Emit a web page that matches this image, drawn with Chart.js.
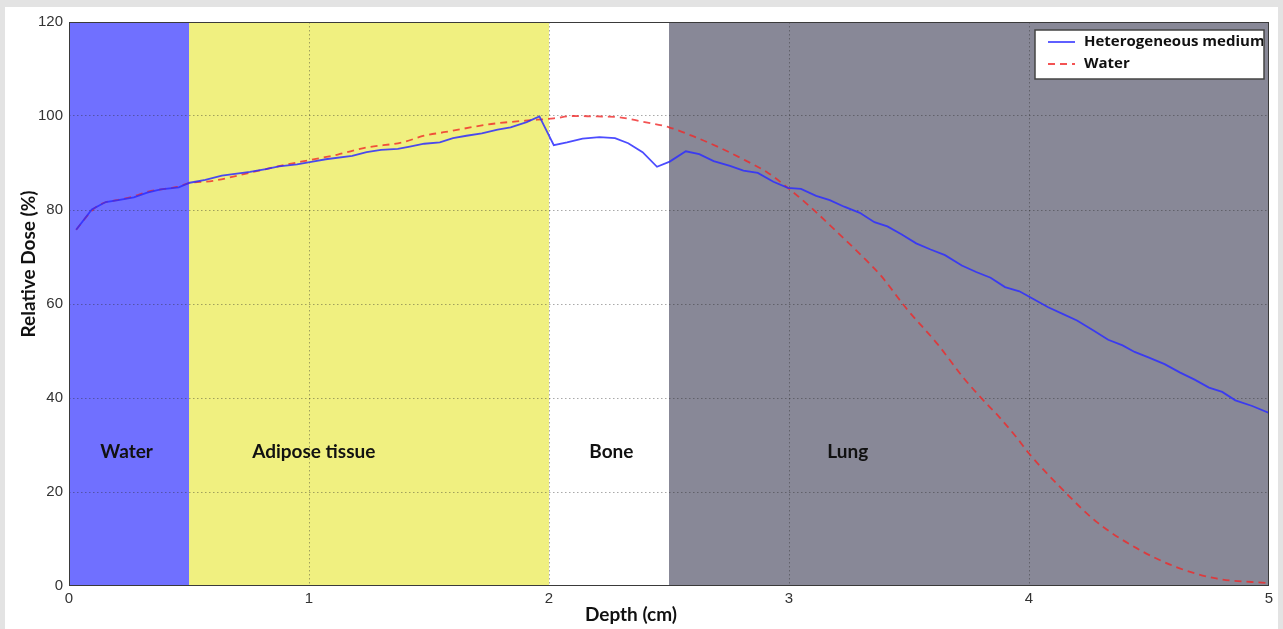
<!DOCTYPE html>
<html>
<head>
<meta charset="utf-8">
<script src="https://cdn.jsdelivr.net/npm/chart.js@4.4.0/dist/chart.umd.min.js"></script>
<style>
  html, body { margin: 0; padding: 0; background: #e3e3e3; }
  #wrap { position: absolute; left: 5px; top: 7px; width: 1273px; height: 622px; background: #fff; }
</style>
</head>
<body>
<div id="wrap"><canvas id="myChart" width="1273" height="622"></canvas></div>
<script>
// heterogeneous medium (blue solid)
const depthHetero = [0.03, 0.095, 0.153, 0.205, 0.27, 0.326, 0.382, 0.457, 0.503, 0.568, 0.637, 0.754, 0.82, 0.875,
  0.95, 1.015, 1.07, 1.18, 1.24, 1.30, 1.37, 1.42, 1.48, 1.545, 1.60, 1.656, 1.72, 1.786, 1.84, 1.907, 1.96,
  2.02, 2.075, 2.14, 2.21, 2.275, 2.33, 2.39, 2.45, 2.503, 2.57, 2.626, 2.686, 2.754, 2.81, 2.87, 2.935, 2.995,
  3.05, 3.113, 3.17, 3.23, 3.295, 3.356, 3.41, 3.47, 3.53, 3.59, 3.65, 3.72, 3.78, 3.84, 3.90, 3.96, 4.02,
  4.08, 4.14, 4.20, 4.267, 4.33, 4.39, 4.44, 4.50, 4.565, 4.63, 4.69, 4.75, 4.805, 4.86, 4.93, 5.0];
const doseHetero = [75.8, 80.1, 81.7, 82.1, 82.7, 83.7, 84.4, 84.8, 85.8, 86.4, 87.3, 88.1, 88.7, 89.3,
  89.7, 90.3, 90.8, 91.5, 92.3, 92.8, 93.0, 93.5, 94.1, 94.4, 95.3, 95.8, 96.3, 97.1, 97.6, 98.7, 99.9,
  93.8, 94.4, 95.2, 95.5, 95.3, 94.2, 92.3, 89.2, 90.3, 92.5, 91.9, 90.4, 89.4, 88.4, 87.9, 86.0, 84.7,
  84.5, 83.0, 82.1, 80.7, 79.4, 77.4, 76.5, 74.8, 72.9, 71.6, 70.4, 68.2, 66.8, 65.6, 63.6, 62.7, 61.0,
  59.3, 57.9, 56.5, 54.4, 52.4, 51.2, 49.8, 48.6, 47.2, 45.4, 43.9, 42.2, 41.3, 39.5, 38.3, 36.8];

// water (red dashed)
const depthWater = [0.03, 0.1, 0.15, 0.2, 0.27, 0.33, 0.4, 0.45, 0.5, 0.6, 0.75, 0.9, 1.0, 1.12, 1.24, 1.39,
  1.48, 1.57, 1.76, 1.9, 2.02, 2.1, 2.2, 2.28, 2.39, 2.5, 2.6, 2.71, 2.82, 2.91, 3.0, 3.09, 3.18, 3.28, 3.38,
  3.49, 3.62, 3.73, 3.81, 3.87, 3.95, 4.0, 4.15, 4.28, 4.45, 4.61, 4.78, 5.0];
const doseWater = [75.8, 80.1, 81.6, 82.1, 82.9, 83.9, 84.5, 84.9, 85.7, 86.2, 87.9, 89.6, 90.6, 91.8, 93.3, 94.4,
  95.8, 96.6, 98.3, 99.0, 99.5, 100.0, 99.9, 99.8, 98.8, 97.6, 95.7, 93.3, 90.5, 88.0, 84.5, 80.6, 76.3, 71.4, 66.2,
  59.0, 51.4, 44.1, 39.5, 36.3, 31.5, 28.2, 20.0, 13.7, 8.0, 4.1, 1.6, 0.6];

// tissue slabs
const regionNames = ['Water', 'Adipose tissue', 'Bone', 'Lung'];
const regionStart = [0, 0.5, 2, 2.5];
const regionEnd = [0.5, 2, 2.5, 5];
const regionLabelX = [0.24, 1.02, 2.26, 3.245];
const regionLabelY = 28.5;
const regionColors = ['rgb(112,112,255)', 'rgb(240,240,128)', '#ffffff', 'rgb(136,136,151)'];

const xTicks = [0, 1, 2, 3, 4, 5];
const yTicks = [0, 20, 40, 60, 80, 100, 120];

const ctx = document.getElementById('myChart').getContext('2d');
const boldFont = '"Lato", "Open Sans", sans-serif';

const slabs = {
  id: 'slabs',
  beforeDraw(chart) {
    const { ctx, chartArea: a, scales: { x } } = chart;
    ctx.save();
    regionNames.forEach((n, i) => {
      const x0 = x.getPixelForValue(regionStart[i]);
      const x1 = x.getPixelForValue(regionEnd[i]);
      ctx.fillStyle = regionColors[i];
      ctx.fillRect(x0, a.top, x1 - x0, a.bottom - a.top);
    });
    ctx.restore();
  },
  afterDraw(chart) {
    const { ctx, chartArea: a, scales: { x, y } } = chart;
    ctx.save();
    // frame
    ctx.strokeStyle = '#3a3a3a';
    ctx.lineWidth = 1;
    ctx.strokeRect(a.left + 0.5, a.top + 0.5, a.right - a.left - 1, a.bottom - a.top - 1);

    // slab labels
    ctx.fillStyle = '#111';
    ctx.font = 'bold 19px ' + boldFont;
    ctx.textAlign = 'center';
    ctx.textBaseline = 'middle';
    regionNames.forEach((n, i) => {
      ctx.fillText(n, x.getPixelForValue(regionLabelX[i]), y.getPixelForValue(regionLabelY));
    });

    // axis titles
    ctx.fillText('Depth (cm)', 626, 608);
    ctx.save();
    ctx.translate(24, 257);
    ctx.rotate(-Math.PI / 2);
    ctx.fillText('Relative Dose (%)', 0, 0);
    ctx.restore();

    // legend box
    const bx = a.right - 234, by = a.top + 8, bw = 229, bh = 49;
    ctx.fillStyle = '#fff';
    ctx.fillRect(bx, by, bw, bh);
    ctx.strokeStyle = '#444';
    ctx.lineWidth = 1.5;
    ctx.strokeRect(bx, by, bw, bh);
    chart.data.datasets.forEach((ds, i) => {
      const ly = by + 12 + i * 22;
      ctx.beginPath();
      ctx.strokeStyle = ds.borderColor;
      ctx.lineWidth = ds.borderWidth;
      ctx.setLineDash(ds.borderDash || []);
      ctx.moveTo(bx + 13, ly);
      ctx.lineTo(bx + 40, ly);
      ctx.stroke();
      ctx.setLineDash([]);
      ctx.save();
      ctx.beginPath();
      ctx.rect(bx, by, bw - 1, bh);
      ctx.clip();
      ctx.fillStyle = '#111';
      ctx.font = 'bold 15px "Open Sans", sans-serif';
      ctx.textAlign = 'left';
      ctx.fillText(ds.label, bx + 49, ly);
      ctx.restore();
    });
    ctx.restore();
  }
};

const gridColor = (c) => (c.tick.value === c.scale.min || c.tick.value === c.scale.max) ? 'rgba(0,0,0,0)' : 'rgba(40,40,40,0.4)';

const chart = new Chart(ctx, {
  type: 'line',
  data: {
    datasets: [{
      label: 'Heterogeneous medium',
      data: depthHetero.map((d, i) => ({ x: d, y: doseHetero[i] })),
      borderColor: 'rgba(45,45,255,0.85)',
      borderWidth: 1.8,
      pointRadius: 0,
      tension: 0,
    }, {
      label: 'Water',
      data: depthWater.map((d, i) => ({ x: d, y: doseWater[i] })),
      borderColor: 'rgba(240,40,40,0.8)',
      borderWidth: 1.8,
      borderDash: [7, 5],
      pointRadius: 0,
      cubicInterpolationMode: 'monotone',
    }],
  },
  options: {
    responsive: false,
    animation: false,
    layout: { padding: { top: 14, right: 9, left: 0, bottom: 0 } },
    plugins: { legend: { display: false }, tooltip: { enabled: false } },
    scales: {
      x: {
        type: 'linear',
        min: 0,
        max: 5,
        afterBuildTicks: (s) => { s.ticks = xTicks.map(v => ({ value: v })); },
        afterFit: (s) => { s.height = 43; },
        ticks: { padding: 4, color: '#333', font: { family: '"Liberation Sans Narrow", "Liberation Sans", Arial, sans-serif', size: 15 } },
        grid: { color: gridColor, lineWidth: 1, drawTicks: false },
        border: { display: false, dash: [1.5, 2.5] },
      },
      y: {
        min: 0,
        max: 120,
        afterBuildTicks: (s) => { s.ticks = yTicks.map(v => ({ value: v })); },
        afterFit: (s) => { s.width = 64; },
        ticks: { padding: 6, color: '#333', font: { family: '"Liberation Sans Narrow", "Liberation Sans", Arial, sans-serif', size: 15 } },
        grid: { color: gridColor, lineWidth: 1, drawTicks: false },
        border: { display: false, dash: [1.5, 2.5] },
      },
    },
  },
  plugins: [slabs],
});
</script>
</body>
</html>
